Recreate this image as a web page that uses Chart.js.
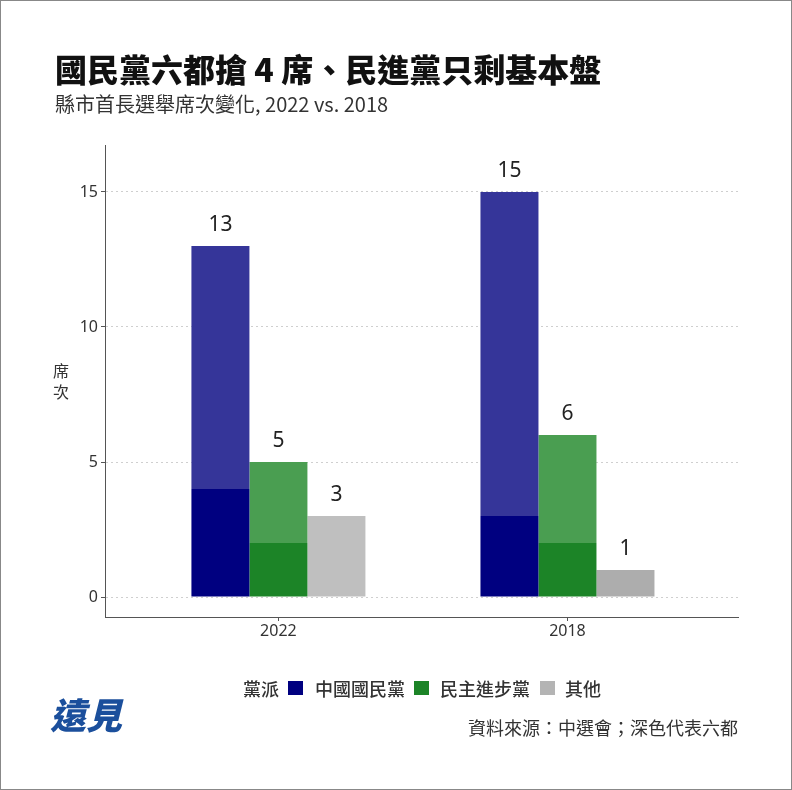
<!DOCTYPE html>
<html>
<head>
<meta charset="utf-8">
<script src="https://cdn.jsdelivr.net/npm/chart.js@4"></script>
<style>
  body { margin: 0; background: #fff; }
  #wrap { position: relative; width: 792px; height: 790px; background: #fff; overflow: hidden;
          font-family: "Noto Sans CJK TC", "Noto Sans", sans-serif; color: #222; }
  #frame { position: absolute; left: 0; top: 0; right: 0; bottom: 0; border: 1px solid #888; pointer-events: none; }
  #chart { position: absolute; left: 0; top: 0; }
  .abs { position: absolute; white-space: nowrap; }
  #title { left: 55px; top: 49px; font-size: 32px; line-height: 38px; font-weight: 900; color: #111; }
  #subtitle { left: 55px; top: 92px; font-size: 20px; line-height: 24px; color: #333; }
  #ytitle { left: 53px; top: 360px; font-size: 16px; line-height: 21px; width: 17px; color: #333; }
  .lg { top: 678px; font-size: 18px; line-height: 20px; font-weight: 500; color: #333; }
  .key { position: absolute; top: 681px; width: 15px; height: 14px; }
  #source { right: 54px; top: 716px; font-size: 18px; line-height: 22px; color: #333; }
  #logo { left: 50px; top: 688px; font-size: 36px; line-height: 50px; font-weight: 900; color: #1b4f9c; font-style: italic; }
</style>
</head>
<body>
<div id="wrap">
  <canvas id="chart" width="792" height="790"></canvas>
  <div id="title" class="abs">國民黨六都搶 4 席、民進黨只剩基本盤</div>
  <div id="subtitle" class="abs">縣市首長選舉席次變化, 2022 vs. 2018</div>
  <div id="ytitle" class="abs">席<br>次</div>

  <div class="abs lg" style="left:243px">黨派</div>
  <div class="key" style="left:288px;background:#000080"></div>
  <div class="abs lg" style="left:315px">中國國民黨</div>
  <div class="key" style="left:414px;background:#1c8427"></div>
  <div class="abs lg" style="left:440px">民主進步黨</div>
  <div class="key" style="left:540px;background:#b4b4b4"></div>
  <div class="abs lg" style="left:565px">其他</div>

  <div id="source" class="abs">資料來源：中選會；深色代表六都</div>
  <div id="logo" class="abs">遠見</div>
  <div id="frame"></div>
</div>

<script>
// seats per year; "six" = the six special municipalities (dark shade)
const years = ['2022', '2018'];
const kmtSix = [4, 3];
const kmtRest = [9, 12];
const dppSix = [2, 2];
const dppRest = [3, 4];
const othSix = [0, 1];
const othRest = [3, 0];
const yTicks = [0, 5, 10, 15];

const pts = arr => arr.map((v, i) => ({ x: i + 1, y: v }));

// total seat count above each party's stack
const totalLabels = {
  id: 'totalLabels',
  afterDatasetsDraw(chart) {
    const { ctx, scales: { y } } = chart;
    const stacks = {};
    chart.data.datasets.forEach((ds, di) => {
      const meta = chart.getDatasetMeta(di);
      ds.data.forEach((p, i) => {
        const key = ds.stack + '_' + i;
        if (!stacks[key]) stacks[key] = { x: meta.data[i].x, sum: 0 };
        stacks[key].sum += p.y;
      });
    });
    ctx.save();
    ctx.font = '21px "Noto Sans", sans-serif';
    ctx.fillStyle = '#222';
    ctx.textAlign = 'center';
    ctx.textBaseline = 'middle';
    Object.values(stacks).forEach(s => {
      ctx.fillText(String(s.sum), s.x, y.getPixelForValue(s.sum) - 21);
    });
    ctx.restore();
  }
};

new Chart(document.getElementById('chart'), {
  type: 'bar',
  data: {
    datasets: [
      { label: '中國國民黨（六都）', stack: 'kmt', data: pts(kmtSix), backgroundColor: '#000080' },
      { label: '中國國民黨', stack: 'kmt', data: pts(kmtRest), backgroundColor: '#353599' },
      { label: '民主進步黨（六都）', stack: 'dpp', data: pts(dppSix), backgroundColor: '#1c8427' },
      { label: '民主進步黨', stack: 'dpp', data: pts(dppRest), backgroundColor: '#4a9e51' },
      { label: '其他（六都）', stack: 'oth', data: pts(othSix), backgroundColor: '#adadad' },
      { label: '其他', stack: 'oth', data: pts(othRest), backgroundColor: '#bfbfbf' }
    ]
  },
  options: {
    responsive: false,
    devicePixelRatio: 1,
    animation: false,
    categoryPercentage: 0.602,
    barPercentage: 1.0,
    borderWidth: 0,
    layout: { padding: { left: 55, right: 54, top: 145, bottom: 143 } },
    plugins: { legend: { display: false }, tooltip: { enabled: false } },
    scales: {
      x: {
        type: 'linear',
        min: 0.4,
        max: 2.59,
        offset: false,
        afterBuildTicks: s => { s.ticks = years.map((_, i) => ({ value: i + 1 })); },
        afterFit: s => { s.height = 30; },
        ticks: {
          callback: v => years[v - 1],
          font: { family: 'Noto Sans', size: 16 },
          color: '#333',
          padding: 1,
          autoSkip: false,
          maxRotation: 0
        },
        grid: { offset: false, drawOnChartArea: false, drawTicks: true, tickLength: 4, color: '#555' },
        border: { color: '#555', width: 1 }
      },
      y: {
        stacked: true,
        min: -0.74,
        max: 16.74,
        afterBuildTicks: s => { s.ticks = yTicks.map(v => ({ value: v })); },
        afterFit: s => { s.width = 50; },
        ticks: {
          font: { family: 'Noto Sans', size: 16 },
          color: '#333',
          padding: 3
        },
        grid: { color: '#cfcfcf', lineWidth: 1, tickColor: '#555', tickLength: 4, tickBorderDash: [] },
        border: { color: '#555', width: 1, dash: [2, 3] }
      }
    }
  },
  plugins: [totalLabels]
});
</script>
</body>
</html>
